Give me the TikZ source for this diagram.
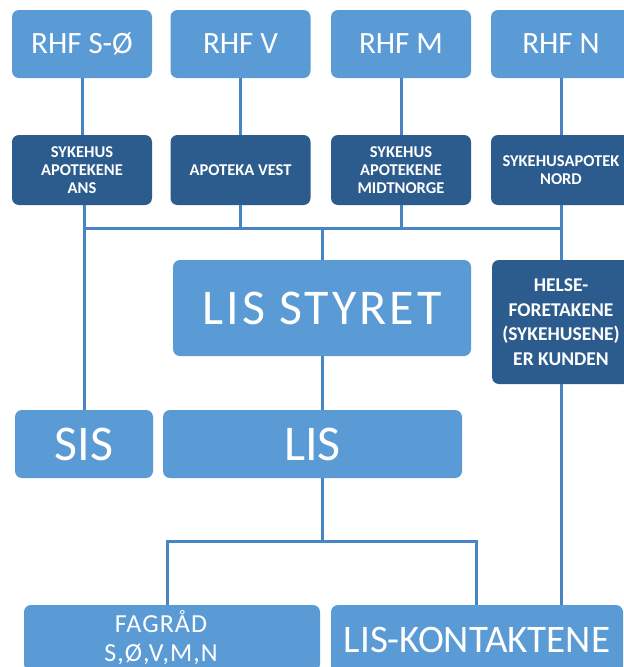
\documentclass[tikz,border=0pt]{standalone}
\usepackage{fontspec}
\setmainfont{Carlito}
\definecolor{lisblue}{RGB}{91,155,213}
\definecolor{apodark}{RGB}{44,92,141}
\definecolor{linkblue}{RGB}{72,133,197}
\tikzset{
  litebox/.style={rectangle, rounded corners=7pt, fill=lisblue, text=white, align=center, inner sep=0pt},
  rhfbox/.style={litebox, minimum width=140pt, minimum height=68pt, font=\fontsize{31}{31}\selectfont},
  apobox/.style={litebox, fill=apodark, minimum width=140pt, minimum height=70pt, font=\bfseries\fontsize{16.5}{18.3}\selectfont},
  bigbox/.style={litebox, minimum height=68pt, font=\fontsize{50}{50}\selectfont},
  link/.style={draw=linkblue, line width=3pt}
}
\begin{document}
\begin{tikzpicture}[x=1pt,y=-1pt]
\useasboundingbox[fill=white] (0,0) rectangle (624,667);

% regionale helseforetak
\node[rhfbox] (rhfso) at (82,44) {RHF S-Ø};
\node[rhfbox] (rhfv) at (240.5,44) {RHF V};
\node[rhfbox] (rhfm) at (401,44) {RHF M};
\node[rhfbox] (rhfn) at (561,44) {RHF N};

% sykehusapotekene
\node[apobox] (aposo) at (82,170) {SYKEHUS\\APOTEKENE\\ANS};
\node[apobox] (apov) at (240.5,170) {APOTEKA VEST};
\node[apobox] (apom) at (401,170) {SYKEHUS\\APOTEKENE\\MIDTNORGE};
\node[apobox] (apon) at (561,170) {SYKEHUSAPOTEK\\NORD};

\node[bigbox, minimum width=298pt, minimum height=96pt, font=\fontsize{50}{50}\selectfont\addfontfeature{LetterSpace=6}] (styret) at (322,308) {LIS STYRET};
\node[apobox, minimum width=138pt, minimum height=124pt, font=\bfseries\fontsize{19.5}{24.5}\selectfont] (kunde) at (561,322) {HELSE-\\FORETAKENE\\(SYKEHUSENE)\\ER KUNDEN};

\node[bigbox, minimum width=138pt] (sis) at (84,444) {SIS};
\node[bigbox, minimum width=299pt] (lis) at (312.5,444) {LIS};

\node[litebox, minimum width=296pt, minimum height=66pt, font=\fontsize{26}{29}\selectfont\addfontfeature{LetterSpace=4}] (fagrad) at (172,638) {\hspace*{-22pt}FAGRÅD\\\hspace*{-22pt}S,Ø,V,M,N};
\node[litebox, minimum width=292pt, minimum height=70pt, font=\fontsize{39}{39}\selectfont] (kontakt) at (477,640) {LIS-KONTAKTENE};

% samleskinner
\coordinate (busl) at (84,228);
\coordinate (busm) at (322,228);
\coordinate (busr) at (561,228);
\coordinate (lisjoin) at (322,541);
\coordinate (fagtop) at (167,541);
\coordinate (kontop) at (476,541);

\foreach \a/\b in {rhfso/aposo, rhfv/apov, rhfm/apom, rhfn/apon}
  \draw[link] (\a.south) -- (\b.north);
\draw[link] (aposo.south -| busl) -- (busl) -- (busr);
\draw[link] (apov.south) -- (apov.south |- busl);
\draw[link] (apom.south) -- (apom.south |- busl);
\draw[link] (apon.south) -- (busr) -- (kunde.north);
\draw[link] (busm) -- (styret.north -| busm);
\draw[link] (busl) -- (sis.north -| busl);
\draw[link] (styret.south -| busm) -- (lis.north -| busm);
\draw[link] (lis.south -| lisjoin) -- (lisjoin);
\draw[link] (fagtop |- fagrad.north) -- (fagtop) -- (kontop) -- (kontop |- kontakt.north);
\draw[link] (kunde.south) -- (kontakt.north -| kunde.south);
\end{tikzpicture}
\end{document}
